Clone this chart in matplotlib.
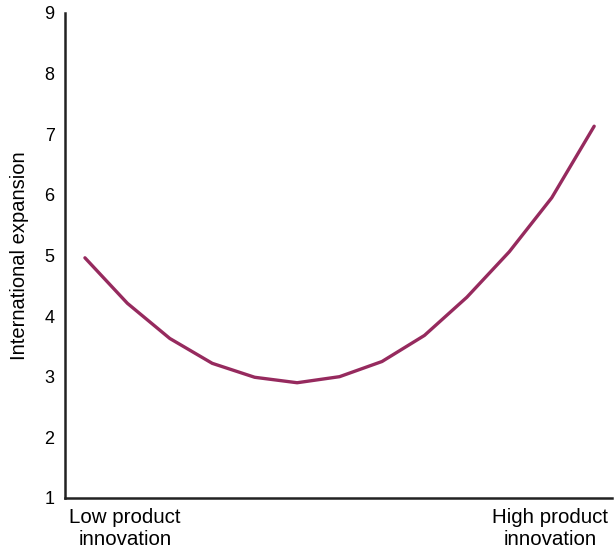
import numpy as np
import matplotlib.pyplot as plt

plt.rcParams['font.family'] = ['Liberation Sans', 'DejaVu Sans']

# values
innovation = np.arange(13)
expansion = [4.96, 4.21, 3.63, 3.22, 2.99, 2.90, 3.00, 3.25, 3.68, 4.31, 5.06, 5.95, 7.13]
x_labels = ['Low product\ninnovation', 'High product\ninnovation']
x_label_pos = [0.94, 10.97]

fig = plt.figure(figsize=(6.16, 5.57), dpi=100)
ax = fig.add_axes([0.1055, 0.106, 0.888, 0.871])

ax.plot(innovation, expansion, color='#962a5e', linewidth=2.4, solid_capstyle='round')

ax.set_xlim(-0.47, 12.42)
ax.set_ylim(1, 9)
ax.set_yticks(range(1, 10))
ax.set_xticks(x_label_pos)
ax.set_xticklabels(x_labels, fontsize=14.8, linespacing=1.2)
ax.tick_params(axis='y', length=0, labelsize=13, pad=7.5)
ax.tick_params(axis='x', length=0, pad=7)
ax.set_ylabel('International expansion', fontsize=14.5, labelpad=11)

for side in ['top', 'right']:
    ax.spines[side].set_visible(False)
for side in ['left', 'bottom']:
    ax.spines[side].set_linewidth(1.8)
    ax.spines[side].set_color('#222222')

fig.savefig('out.png', dpi=100)
